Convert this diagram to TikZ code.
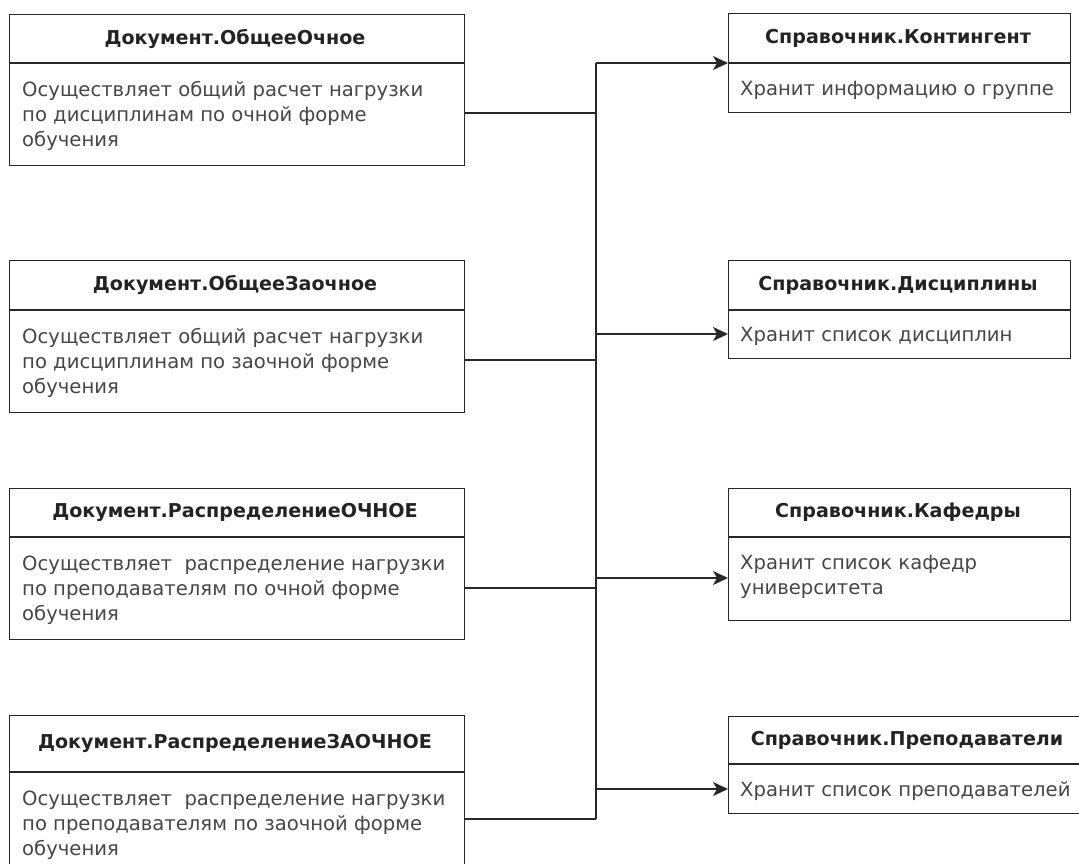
\documentclass[tikz,border=0pt]{standalone}
\usepackage{fontspec}
\setmainfont{DejaVu Sans}
\usetikzlibrary{arrows.meta}
\definecolor{edge}{RGB}{40,40,40}
\definecolor{bodytext}{RGB}{70,70,70}
\definecolor{headtext}{RGB}{35,35,35}
\tikzset{
  cls/.style={draw=edge, line width=1.3pt, fill=white, anchor=north west, inner sep=0pt},
  headtxt/.style={font=\fontsize{19.1}{23}\selectfont\bfseries, text=headtext, inner sep=0pt},
  bodytxt/.style={font=\fontsize{19.6}{25}\selectfont, text=bodytext, align=left, anchor=north west, inner sep=0pt},
  divline/.style={draw=edge, line width=1.3pt},
  conn/.style={draw=edge, line width=1.3pt},
  arr/.style={conn, -{Stealth[length=15pt,width=14pt,inset=4pt]}}
}
\begin{document}
\begin{tikzpicture}[x=1pt,y=-1pt]
\useasboundingbox (0,0) rectangle (1079,863);
\clip (0,0) rectangle (1079,863);

% ---------- left boxes ----------
\node[cls, minimum width=455pt, minimum height=151pt] (L1) at (9,14) {};
\draw[divline] (9,63) -- (464,63);
\node[headtxt] (L1h) at (235,38.5) {Документ.ОбщееОчное};
\node[bodytxt] (L1b) at (22,78.5) {\strut Осуществляет общий расчет нагрузки\\по дисциплинам по очной форме\\обучения};

\node[cls, minimum width=455pt, minimum height=152pt] (L2) at (9,260) {};
\draw[divline] (9,310) -- (464,310);
\node[headtxt] (L2h) at (235,285) {Документ.ОбщееЗаочное};
\node[bodytxt] (L2b) at (22,325.5) {\strut Осуществляет общий расчет нагрузки\\по дисциплинам по заочной форме\\обучения};

\node[cls, minimum width=455pt, minimum height=151pt] (L3) at (9,488) {};
\draw[divline] (9,537) -- (464,537);
\node[headtxt] (L3h) at (235,512.5) {Документ.РаспределениеОЧНОЕ};
\node[bodytxt] (L3b) at (22,552.5) {\strut Осуществляет\ \ распределение нагрузки\\по преподавателям по очной форме\\обучения};

\node[cls, minimum width=455pt, minimum height=170pt] (L4) at (9,715) {};
\draw[divline] (9,772) -- (464,772);
\node[headtxt] (L4h) at (235,743.5) {Документ.РаспределениеЗАОЧНОЕ};
\node[bodytxt] (L4b) at (22,787.5) {\strut Осуществляет\ \ распределение нагрузки\\по преподавателям по заочной форме\\обучения};

% ---------- right boxes ----------
\node[cls, minimum width=342pt, minimum height=99pt] (R1) at (728,13) {};
\draw[divline] (728,63) -- (1070,63);
\node[headtxt] (R1h) at (898,38) {Справочник.Контингент};
\node[bodytxt] (R1b) at (740,77.5) {\strut Хранит информацию о группе};

\node[cls, minimum width=342pt, minimum height=98pt] (R2) at (728,260) {};
\draw[divline] (728,310) -- (1070,310);
\node[headtxt] (R2h) at (898,285) {Справочник.Дисциплины};
\node[bodytxt] (R2b) at (740,323.5) {\strut Хранит список дисциплин};

\node[cls, minimum width=342pt, minimum height=132pt] (R3) at (728,488) {};
\draw[divline] (728,537) -- (1070,537);
\node[headtxt] (R3h) at (898,512.5) {Справочник.Кафедры};
\node[bodytxt] (R3b) at (740,552) {\strut Хранит список кафедр\\университета};

\node[cls, minimum width=358pt, minimum height=97pt] (R4) at (728,716) {};
\draw[divline] (728,764) -- (1086,764);
\node[headtxt] (R4h) at (907,740) {Справочник.Преподаватели};
\node[bodytxt] (R4b) at (740,778.5) {\strut Хранит список преподавателей};

% ---------- connectors ----------
\coordinate (L1o) at (464,113);
\coordinate (L2o) at (464,360);
\coordinate (L3o) at (464,588);
\coordinate (L4o) at (464,819);
\coordinate (R1i) at (728,63);
\coordinate (R2i) at (728,334);
\coordinate (R3i) at (728,578);
\coordinate (R4i) at (728,789);
\coordinate (busT) at (596,63);
\coordinate (busB) at (596,819);

\draw[conn] (busT) -- (busB);
\draw[conn] (L1o) -- (L1o -| busT);
\draw[conn] (L2o) -- (L2o -| busT);
\draw[conn] (L3o) -- (L3o -| busT);
\draw[conn] (L4o) -- (busB);
\draw[arr] (busT) -- (R1i);
\draw[arr] (R2i -| busT) -- (R2i);
\draw[arr] (R3i -| busT) -- (R3i);
\draw[arr] (R4i -| busT) -- (R4i);
\end{tikzpicture}
\end{document}
